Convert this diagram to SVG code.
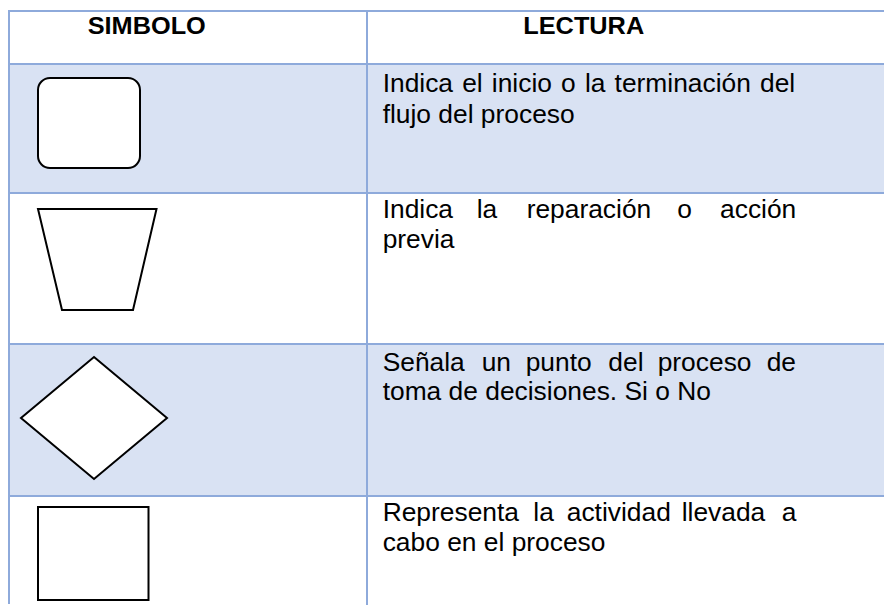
<svg xmlns="http://www.w3.org/2000/svg" width="884" height="605" viewBox="0 0 884 605">
  <style>
    .blue { fill: #d9e2f3; }
    .grid { stroke: #8eaadb; stroke-width: 2; fill: none; }
    .shape { fill: #ffffff; stroke: #000000; stroke-width: 2; stroke-linejoin: miter; }
    .hdr { font-family: "Liberation Sans", Arial, sans-serif; font-weight: bold; font-size: 24px; fill: #000; text-anchor: middle; }
    .body { font-family: "Liberation Sans", Arial, sans-serif; font-size: 25px; fill: #000; }
  </style>
  <rect width="884" height="605" fill="#ffffff"/>

  <g id="table">
    <rect class="blue" x="10" y="65" width="874" height="127"/>
    <rect class="blue" x="10" y="345" width="874" height="150"/>
    <g class="grid">
      <line x1="8" y1="11" x2="884" y2="11"/>
      <line x1="8" y1="64" x2="884" y2="64"/>
      <line x1="8" y1="193" x2="884" y2="193"/>
      <line x1="8" y1="344" x2="884" y2="344"/>
      <line x1="8" y1="496" x2="884" y2="496"/>
      <line x1="9" y1="10" x2="9" y2="604"/>
      <line x1="367" y1="10" x2="367" y2="605"/>
    </g>
  </g>

  <g id="header" transform="scale(1.055,1)">
    <text class="hdr" x="139.1" y="34">SIMBOLO</text>
    <text class="hdr" x="553.3" y="34">LECTURA</text>
  </g>

  <g id="row-terminal">
    <rect class="shape" x="38" y="78" width="102" height="90" rx="12" ry="12"/>
    <text class="body" transform="scale(1.055,1)">
      <tspan x="362.7" y="92.5" word-spacing="1.74">Indica el inicio o la terminación del</tspan>
      <tspan x="362.7" y="123">flujo del proceso</tspan>
    </text>
  </g>

  <g id="row-preparation">
    <polygon class="shape" points="38,209 156.5,209 133,310 62,310"/>
    <text class="body" transform="scale(1.055,1)">
      <tspan x="362.7" y="218.5">Indica</tspan><tspan x="451.8" y="218.5">la</tspan><tspan x="499.2" y="218.5">reparación</tspan><tspan x="642.0" y="218.5">o</tspan><tspan x="682.5" y="218.5">acción</tspan>
      <tspan x="362.7" y="248.5">previa</tspan>
    </text>
  </g>

  <g id="row-decision">
    <polygon class="shape" points="94,357 167,418 94,479 21,418"/>
    <text class="body" transform="scale(1.055,1)">
      <tspan x="362.7" y="371">Señala</tspan><tspan x="456.6" y="371">un</tspan><tspan x="498.3" y="371">punto</tspan><tspan x="576.6" y="371">del</tspan><tspan x="623.4" y="371">proceso</tspan><tspan x="726.7" y="371">de</tspan>
      <tspan x="362.7" y="400">toma de decisiones. Si o No</tspan>
    </text>
  </g>

  <g id="row-process">
    <rect class="shape" x="38" y="507" width="110.5" height="93"/>
    <text class="body" transform="scale(1.055,1)">
      <tspan x="362.7" y="521">Representa</tspan><tspan x="505.5" y="521">la</tspan><tspan x="537.2" y="521">actividad</tspan><tspan x="646.2" y="521">llevada</tspan><tspan x="740.9" y="521">a</tspan>
      <tspan x="362.7" y="551.5">cabo en el proceso</tspan>
    </text>
  </g>

  <g id="connectors"/>
</svg>
